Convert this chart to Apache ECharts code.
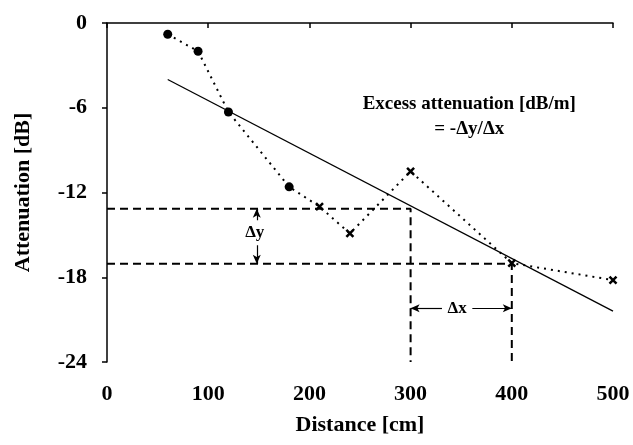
<!DOCTYPE html>
<html>
<head>
<meta charset="utf-8">
<script src="https://cdn.jsdelivr.net/npm/echarts@6/dist/echarts.min.js"></script>
<style>
  html, body { margin: 0; padding: 0; background: #fff; }
  #chart { width: 633px; height: 445px; }
</style>
</head>
<body>
<div id="chart"></div>
<script>
    // measured points
    const dotDist = [60, 90, 120, 180];
    const dotAtt = [-0.8, -2.0, -6.3, -11.6];
    const crossDist = [210, 240, 300, 400, 500];
    const crossAtt = [-13.0, -14.9, -10.5, -17.0, -18.2];

    // regression line end points
    const fitDist = [60, 500];
    const fitAtt = [-4.0, -20.4];

    // dashed construction lines
    const guideDist = [300, 400];
    const guideAtt = [-13.15, -17.05];

    // delta arrows
    const dyArrowDist = 148;
    const dyArrowFrom = [-14.1, -15.6];
    const dyArrowTo = [-13.15, -17.05];
    const dxArrowAtt = -20.2;
    const dxArrowFrom = [331, 361];
    const dxArrowTo = [300, 400];

    // text labels
    const noteText = ['Δy', 'Δx', 'Excess attenuation [dB/m]\n= -Δy/Δx'];
    const noteDist = [146, 346, 358];
    const noteAtt = [-14.85, -20.2, -6.6];

    const xTicks = [0, 100, 200, 300, 400, 500];
    const yTicks = [0, -6, -12, -18, -24];

    const font = 'Liberation Serif';
    const yMin = yTicks[yTicks.length - 1];

    let dots = dotDist.map((d, i) => [d, dotAtt[i]]);
    let crosses = crossDist.map((d, i) => [d, crossAtt[i]]);
    let measured = dots.concat(crosses);
    let fit = fitDist.map((d, i) => [d, fitAtt[i]]);
    let notes = noteText.map((t, i) => ({
        value: [noteDist[i], noteAtt[i], t],
        label: { fontSize: i < 2 ? 17 : 19 }
    }));

    let guideSeries = guideDist.map((d, i) => ({
        type: 'line',
        data: [[0, guideAtt[i]], [d, guideAtt[i]], [d, yMin]],
        symbol: 'none',
        lineStyle: { color: '#000', width: 2, type: [8, 5] },
        silent: true,
        z: 1
    }));

    let arrowLines = [];
    dyArrowFrom.forEach((a, i) => {
        arrowLines.push([{ coord: [dyArrowDist, a] }, { coord: [dyArrowDist, dyArrowTo[i]] }]);
    });
    dxArrowFrom.forEach((d, i) => {
        arrowLines.push([{ coord: [d, dxArrowAtt] }, { coord: [dxArrowTo[i], dxArrowAtt] }]);
    });

    let labelStyle = { fontFamily: font, fontSize: 22, fontWeight: 'bold', color: '#000' };

    let dom = echarts.init(document.getElementById('chart'));
    let option = {
        animation: false,
        backgroundColor: '#fff',
        grid: { left: 107, right: 20, top: 23, bottom: 83, containLabel: false },
        xAxis: {
            type: 'value',
            min: 0,
            max: 500,
            interval: 100,
            name: 'Distance [cm]',
            nameLocation: 'middle',
            nameGap: 52,
            nameTextStyle: labelStyle,
            axisLine: { lineStyle: { color: '#000', width: 1.5 } },
            axisTick: { length: 5, lineStyle: { color: '#000', width: 1.5 } },
            axisLabel: Object.assign({ margin: 21 }, labelStyle),
            splitLine: { show: false }
        },
        yAxis: {
            type: 'value',
            min: yMin,
            max: 0,
            interval: 6,
            name: 'Attenuation [dB]',
            nameLocation: 'middle',
            nameGap: 73,
            nameTextStyle: labelStyle,
            axisLine: { show: true, lineStyle: { color: '#000', width: 1.5 } },
            axisTick: { show: true, length: 5, lineStyle: { color: '#000', width: 1.5 } },
            axisLabel: Object.assign({ margin: 20 }, labelStyle),
            splitLine: { show: false }
        },
        series: [
            ...guideSeries,
            {
                type: 'line',
                data: fit,
                symbol: 'none',
                lineStyle: { color: '#000', width: 1.3 },
                silent: true,
                z: 2
            },
            {
                type: 'line',
                data: measured,
                symbol: 'none',
                lineStyle: { color: '#000', width: 2, type: [2, 5] },
                silent: true,
                z: 3
            },
            {
                type: 'scatter',
                data: dots,
                symbol: 'circle',
                symbolSize: 9,
                itemStyle: { color: '#000', opacity: 1 },
                z: 4
            },
            {
                type: 'scatter',
                data: crosses,
                symbol: 'path://M0,0L10,10M10,0L0,10',
                symbolSize: 7,
                itemStyle: { color: 'none', borderColor: '#000', borderWidth: 2.5, opacity: 1 },
                z: 4
            },
            {
                type: 'scatter',
                data: notes,
                symbolSize: 0,
                itemStyle: { opacity: 1 },
                label: {
                    show: true,
                    position: 'inside',
                    formatter: p => p.value[2],
                    fontFamily: font,
                    fontWeight: 'bold',
                    color: '#000',
                    opacity: 1,
                    lineHeight: 25,
                    align: 'center',
                    backgroundColor: '#fff',
                    padding: [0, 2]
                },
                markLine: {
                    silent: true,
                    symbol: ['none', 'arrow'],
                    symbolSize: [6, 9],
                    label: { show: false },
                    lineStyle: { color: '#000', width: 1.2, type: 'solid', opacity: 1 },
                    data: arrowLines
                },
                z: 5
            }
        ]
    };
    dom.setOption(option);
</script>
</body>
</html>
